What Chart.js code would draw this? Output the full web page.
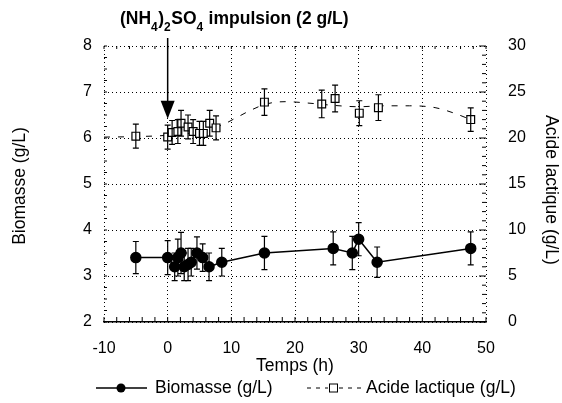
<!DOCTYPE html>
<html>
<head>
<meta charset="utf-8">
<script src="https://cdn.jsdelivr.net/npm/chart.js@4.4.1/dist/chart.umd.min.js"></script>
<style>
  html, body { margin: 0; padding: 0; background: #fff; }
  #wrap { width: 562px; height: 403px; }
</style>
</head>
<body>
<div id="wrap"><canvas id="myChart" width="562" height="403"></canvas></div>
<script>
// Biomasse (axe gauche)
var bioTime   = [-5, 0, 1.1, 1.6, 2.1, 2.6, 3.2, 3.7, 4.6, 5.5, 6.5, 8.5, 15.2, 26.0, 29.0, 30.0, 32.9, 47.6];
var bioValues = [3.4, 3.4, 3.2, 3.4, 3.5, 3.2, 3.25, 3.3, 3.5, 3.4, 3.2, 3.3, 3.5, 3.6, 3.5, 3.8, 3.3, 3.6];
var bioErr    = [0.35, 0.37, 0.3, 0.4, 0.45, 0.3, 0.35, 0.3, 0.35, 0.3, 0.3, 0.3, 0.36, 0.36, 0.36, 0.36, 0.33, 0.36];

// Acide lactique (axe droit)
var lacTime   = [-5, 0, 0.7, 1.6, 2.1, 3.2, 4.0, 5.0, 5.6, 6.6, 7.6, 15.2, 24.2, 26.3, 30.1, 33.1, 47.6];
var lacValues = [20.2, 20.1, 20.6, 20.7, 21.6, 21.2, 20.7, 20.5, 20.5, 21.6, 21.1, 23.9, 23.7, 24.3, 22.7, 23.3, 22.0];
var lacErr    = [1.3, 1.3, 1.3, 1.3, 1.4, 1.3, 1.3, 1.3, 1.3, 1.4, 1.3, 1.45, 1.5, 1.45, 1.35, 1.4, 1.27];

// courbe en tirets (lissage de l'acide lactique)
var fitTime   = [-10, -5, 0, 5, 8.5, 10.5, 13, 15.5, 18.5, 22, 26, 30, 34, 38, 42, 45, 47.6];
var fitValues = [20.1, 20.15, 20.3, 20.7, 21.4, 22.1, 23.0, 23.7, 23.95, 23.8, 23.55, 23.4, 23.5, 23.5, 23.3, 22.7, 22.0];

var xTicks  = [-10, 0, 10, 20, 30, 40, 50];
var yTicks  = [2, 3, 4, 5, 6, 7, 8];
var y2Ticks = [0, 5, 10, 15, 20, 25, 30];

var FONT = '"Liberation Sans", Arial, Helvetica, sans-serif';

function pts(xs, ys) {
  return xs.map(function (t, i) { return { x: t, y: ys[i] }; });
}

function drawErr(ctx, xs, ys, err, sx, sy) {
  ctx.save();
  ctx.strokeStyle = '#000';
  ctx.lineWidth = 1.2;
  for (var i = 0; i < xs.length; i++) {
    var px = sx.getPixelForValue(xs[i]);
    var top = sy.getPixelForValue(ys[i] + err[i]);
    var bot = sy.getPixelForValue(ys[i] - err[i]);
    ctx.beginPath();
    ctx.moveTo(px, top); ctx.lineTo(px, bot);
    ctx.moveTo(px - 3, top); ctx.lineTo(px + 3, top);
    ctx.moveTo(px - 3, bot); ctx.lineTo(px + 3, bot);
    ctx.stroke();
  }
  ctx.restore();
}

var decor = {
  id: 'decor',
  afterDatasetsDraw: function (chart) {
    var ctx = chart.ctx, s = chart.scales;
    drawErr(ctx, bioTime, bioValues, bioErr, s.x, s.y);
    drawErr(ctx, lacTime, lacValues, lacErr, s.x, s.y2);
  },
  afterDraw: function (chart) {
    var ctx = chart.ctx, s = chart.scales, a = chart.chartArea;
    ctx.save();
    ctx.strokeStyle = '#000';
    ctx.fillStyle = '#000';
    ctx.lineWidth = 1;

    // petites graduations
    ctx.beginPath();
    for (var t = -10; t <= 50; t += 2) {
      var px = s.x.getPixelForValue(t);
      ctx.moveTo(px, a.bottom); ctx.lineTo(px, a.bottom - 5);
      ctx.moveTo(px, a.top); ctx.lineTo(px, a.top + 3);
    }
    for (var v = 0; v <= 30; v += 1) {
      var py = s.y2.getPixelForValue(v);
      var len = v % 5 === 0 ? 7 : 4;
      ctx.moveTo(a.right, py); ctx.lineTo(a.right - len, py);
    }
    for (var b = 2; b <= 8; b += 0.25) {
      var py2 = s.y.getPixelForValue(b);
      ctx.moveTo(a.left, py2); ctx.lineTo(a.left + 3, py2);
    }
    ctx.stroke();

    // flèche d'impulsion à t = 0
    var ax = s.x.getPixelForValue(0);
    var tip = s.y.getPixelForValue(6.42);
    ctx.lineWidth = 1.5;
    ctx.beginPath();
    ctx.moveTo(ax, 38); ctx.lineTo(ax, tip - 16);
    ctx.stroke();
    ctx.beginPath();
    ctx.moveTo(ax - 7, tip - 18); ctx.lineTo(ax + 7, tip - 18); ctx.lineTo(ax, tip);
    ctx.closePath(); ctx.fill();

    // annotation (NH4)2SO4 impulsion (2 g/L)
    var parts = [['(NH', 0], ['4', 1], [')', 0], ['2', 1], ['SO', 0], ['4', 1], [' impulsion (2 g/L)', 0]];
    var x = 120;
    ctx.textBaseline = 'alphabetic';
    ctx.textAlign = 'left';
    parts.forEach(function (p) {
      ctx.font = p[1] ? 'bold 12px ' + FONT : 'bold 17.5px ' + FONT;
      ctx.fillText(p[0], x, p[1] ? 31 : 24);
      x += ctx.measureText(p[0]).width + (p[1] ? 0.5 : 0);
    });

    // titres des axes
    ctx.font = '17.5px ' + FONT;
    ctx.textAlign = 'center';
    ctx.textBaseline = 'middle';
    ctx.save();
    ctx.translate(20, 186); ctx.rotate(-Math.PI / 2);
    ctx.fillText('Biomasse (g/L)', 0, 0);
    ctx.restore();
    ctx.save();
    ctx.translate(551, 190); ctx.rotate(Math.PI / 2);
    ctx.fillText('Acide lactique (g/L)', 0, 0);
    ctx.restore();
    ctx.fillText('Temps (h)', (a.left + a.right) / 2, 366);

    // légende
    var ly = 388;
    ctx.lineWidth = 1.5;
    ctx.beginPath(); ctx.moveTo(96, ly); ctx.lineTo(147, ly); ctx.stroke();
    ctx.beginPath(); ctx.arc(121, ly, 4.5, 0, Math.PI * 2); ctx.fill();
    ctx.textAlign = 'left';
    ctx.fillText('Biomasse (g/L)', 155, ly);

    ctx.lineWidth = 1;
    ctx.setLineDash([4, 5]);
    ctx.beginPath();
    ctx.moveTo(307, ly); ctx.lineTo(328, ly);
    ctx.moveTo(339, ly); ctx.lineTo(362, ly);
    ctx.stroke();
    ctx.setLineDash([]);
    ctx.fillStyle = '#fff';
    ctx.fillRect(329.5, ly - 4, 8, 8);
    ctx.strokeRect(329.5, ly - 4, 8, 8);
    ctx.fillStyle = '#000';
    ctx.fillText('Acide lactique (g/L)', 366, ly);
    ctx.restore();
  }
};

var ctx = document.getElementById('myChart').getContext('2d');
new Chart(ctx, {
  type: 'line',
  data: {
    datasets: [{
      label: 'Biomasse (g/L)',
      data: pts(bioTime, bioValues),
      yAxisID: 'y',
      borderColor: '#000',
      borderWidth: 1.5,
      pointRadius: 5,
      pointBackgroundColor: '#000',
      pointBorderColor: '#000',
      tension: 0
    }, {
      label: 'Acide lactique (g/L)',
      data: pts(lacTime, lacValues),
      yAxisID: 'y2',
      showLine: false,
      pointStyle: 'rect',
      pointRadius: 5.5,
      pointBackgroundColor: '#fff',
      pointBorderColor: '#000',
      pointBorderWidth: 1.2
    }, {
      label: 'lissage',
      data: pts(fitTime, fitValues),
      yAxisID: 'y2',
      borderColor: '#000',
      borderWidth: 1,
      borderDash: [6, 8],
      pointRadius: 0,
      cubicInterpolationMode: 'monotone'
    }]
  },
  options: {
    responsive: false,
    animation: false,
    devicePixelRatio: 1,
    layout: { padding: { top: 46, left: 0, right: 0, bottom: 0 } },
    plugins: { legend: { display: false }, tooltip: { enabled: false } },
    scales: {
      x: {
        type: 'linear', min: -10, max: 50,
        afterFit: function (s) { s.height = 81; },
        afterBuildTicks: function (s) { s.ticks = xTicks.map(function (v) { return { value: v }; }); },
        ticks: { color: '#000', font: { family: FONT, size: 16 }, padding: 17, maxRotation: 0, autoSkip: false },
        grid: { color: '#000', lineWidth: 1, drawTicks: false },
        border: { display: true, color: '#000', width: 1.5, dash: [1, 3] }
      },
      y: {
        position: 'left', min: 2, max: 8,
        afterFit: function (s) { s.width = 104; },
        afterBuildTicks: function (s) { s.ticks = yTicks.map(function (v) { return { value: v }; }); },
        ticks: { color: '#000', font: { family: FONT, size: 16 }, padding: 12 },
        grid: { color: '#000', lineWidth: 1, drawTicks: false },
        border: { display: false, dash: [1, 3] }
      },
      y2: {
        position: 'right', min: 0, max: 30,
        afterFit: function (s) { s.width = 76; },
        afterBuildTicks: function (s) { s.ticks = y2Ticks.map(function (v) { return { value: v }; }); },
        ticks: { color: '#000', font: { family: FONT, size: 16 }, padding: 22 },
        grid: { drawOnChartArea: false, drawTicks: false },
        border: { display: false }
      }
    }
  },
  plugins: [decor]
});
</script>
</body>
</html>
